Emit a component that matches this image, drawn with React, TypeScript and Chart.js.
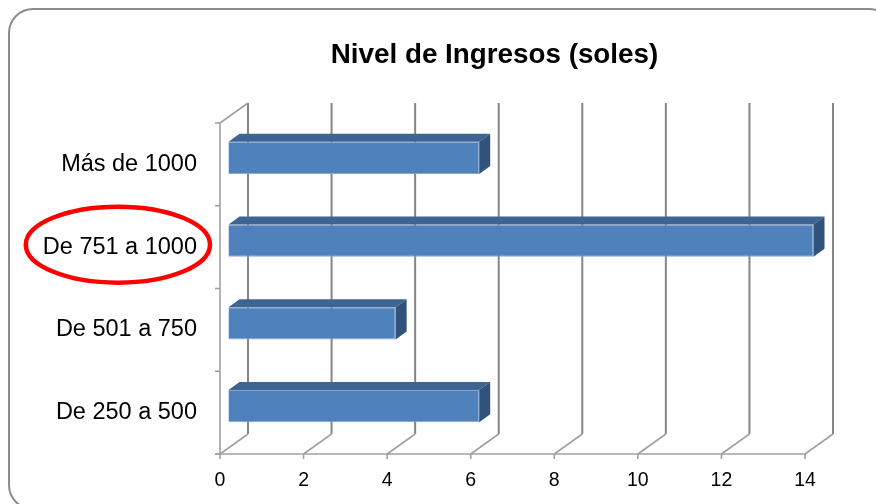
import { useEffect, useRef } from "react";
import { Chart, registerables } from "chart.js";

Chart.register(...registerables);

const categories = ["Más de 1000", "De 751 a 1000", "De 501 a 750", "De 250 a 500"];
const values = [6, 14, 4, 6];
const xTicks = [0, 2, 4, 6, 8, 10, 12, 14];
const chartTitle = "Nivel de Ingresos (soles)";
const highlighted = "De 751 a 1000";

const FONT = "'Liberation Sans', Arial, Helvetica, sans-serif";
const DEPTH = { dx: 28, dy: -20 };
const BAR_SHIFT = { dx: 8.5, dy: -6.5 };
const BAR_DEPTH = { dx: 11, dy: -8 };
const Y_TICK_PAD = 23;
const Y_FONT_SIZE = 23.5;

function line(ctx: CanvasRenderingContext2D, x1: number, y1: number, x2: number, y2: number) {
  ctx.beginPath();
  ctx.moveTo(x1, y1);
  ctx.lineTo(x2, y2);
  ctx.stroke();
}

const frame3d = {
  id: "frame3d",
  beforeDraw(chart: any) {
    const ctx: CanvasRenderingContext2D = chart.ctx;
    ctx.save();
    ctx.strokeStyle = "#8c8c8c";
    ctx.lineWidth = 2;
    ctx.beginPath();
    (ctx as any).roundRect(9, 9, 884, 500, 24);
    ctx.stroke();
    // title
    ctx.fillStyle = "#000";
    ctx.font = `bold 27.8px ${FONT}`;
    ctx.textAlign = "center";
    ctx.textBaseline = "alphabetic";
    ctx.fillText(chartTitle, 494.5, 62.7);
    ctx.restore();
  },
  beforeDatasetsDraw(chart: any) {
    const ctx: CanvasRenderingContext2D = chart.ctx;
    const a = chart.chartArea;
    const xs = chart.scales.x;
    ctx.save();
    // back wall gridlines
    ctx.strokeStyle = "#858585";
    ctx.lineWidth = 2;
    xTicks.forEach((v) => {
      const px = xs.getPixelForValue(v);
      line(ctx, px + DEPTH.dx, a.top + DEPTH.dy, px + DEPTH.dx, a.bottom + DEPTH.dy);
    });
    // floor diagonals and front edge
    ctx.strokeStyle = "#a0a0a0";
    ctx.lineWidth = 1.6;
    xTicks.forEach((v) => {
      const px = xs.getPixelForValue(v);
      line(ctx, px, a.bottom, px + DEPTH.dx, a.bottom + DEPTH.dy);
      line(ctx, px, a.bottom, px, a.bottom + 5);
    });
    line(ctx, a.left - 5, a.bottom, a.right, a.bottom);
    // left wall
    line(ctx, a.left, a.top, a.left, a.bottom);
    line(ctx, a.left, a.top, a.left + DEPTH.dx, a.top + DEPTH.dy);
    const n = categories.length;
    for (let i = 0; i <= n; i++) {
      const y = a.top + (i * (a.bottom - a.top)) / n;
      line(ctx, a.left - 5, y, a.left, y);
    }
    ctx.restore();
    ctx.save();
    ctx.translate(BAR_SHIFT.dx, BAR_SHIFT.dy);
  },
  afterDatasetsDraw(chart: any) {
    const ctx: CanvasRenderingContext2D = chart.ctx;
    const meta = chart.getDatasetMeta(0);
    meta.data.forEach((el: any) => {
      const { x, y, base, height } = el.getProps(["x", "y", "base", "height"], true);
      const top = y - height / 2;
      const bot = y + height / 2;
      ctx.fillStyle = "#3e6491";
      ctx.beginPath();
      ctx.moveTo(base, top);
      ctx.lineTo(x, top);
      ctx.lineTo(x + BAR_DEPTH.dx, top + BAR_DEPTH.dy);
      ctx.lineTo(base + BAR_DEPTH.dx, top + BAR_DEPTH.dy);
      ctx.closePath();
      ctx.fill();
      ctx.fillStyle = "#31527b";
      ctx.beginPath();
      ctx.moveTo(x, top);
      ctx.lineTo(x + BAR_DEPTH.dx, top + BAR_DEPTH.dy);
      ctx.lineTo(x + BAR_DEPTH.dx, bot + BAR_DEPTH.dy);
      ctx.lineTo(x, bot);
      ctx.closePath();
      ctx.fill();
    });
    ctx.restore();
  },
  afterDraw(chart: any) {
    const ctx: CanvasRenderingContext2D = chart.ctx;
    const a = chart.chartArea;
    const ys = chart.scales.y;
    const idx = categories.indexOf(highlighted);
    if (idx < 0) return;
    ctx.save();
    ctx.font = `${Y_FONT_SIZE}px ${FONT}`;
    const w = ctx.measureText(highlighted).width;
    const right = a.left - Y_TICK_PAD;
    const cx = right - w / 2 - 2;
    const cy = ys.getPixelForValue(idx) - 2.5;
    ctx.strokeStyle = "#ff0000";
    ctx.lineWidth = 4.5;
    ctx.beginPath();
    ctx.ellipse(cx, cy, w / 2 + 15, 38, 0, 0, Math.PI * 2);
    ctx.stroke();
    ctx.restore();
  },
};

export default function App() {
  const canvasRef = useRef<HTMLCanvasElement | null>(null);

  useEffect(() => {
    if (!canvasRef.current) return;
    const chart = new Chart(canvasRef.current, {
      type: "bar",
      data: {
        labels: categories,
        datasets: [
          {
            data: values,
            backgroundColor: "#4f81bd",
            borderColor: "#86a5cf",
            borderWidth: 1,
            barPercentage: 0.39,
            categoryPercentage: 1,
            clip: false as any,
          },
        ],
      },
      options: {
        animation: false,
        responsive: false,
        indexAxis: "y",
        layout: { padding: { left: 20, right: 71, top: 123, bottom: 0 } },
        plugins: {
          legend: { display: false },
          tooltip: { enabled: false },
          title: { display: false },
        },
        scales: {
          x: {
            min: 0,
            max: 14,
            ticks: {
              stepSize: 2,
              color: "#000",
              font: { family: FONT, size: 19.5 },
              padding: 15,
              maxRotation: 0,
              autoSkip: false,
            },
            grid: { display: false, drawTicks: false },
            border: { display: false },
            afterFit: (s: any) => {
              s.height = 50;
            },
          },
          y: {
            ticks: {
              color: "#000",
              font: { family: FONT, size: Y_FONT_SIZE },
              padding: Y_TICK_PAD,
            },
            grid: { display: false, drawTicks: false },
            border: { display: false },
            afterFit: (s: any) => {
              s.width = 200;
            },
          },
        },
      },
      plugins: [frame3d],
    });
    return () => chart.destroy();
  }, []);

  return (
    <div style={{ position: "absolute", left: 0, top: 0, width: 876, height: 504, background: "#fff" }}>
      <canvas ref={canvasRef} width={876} height={504} style={{ display: "block" }} />
    </div>
  );
}
